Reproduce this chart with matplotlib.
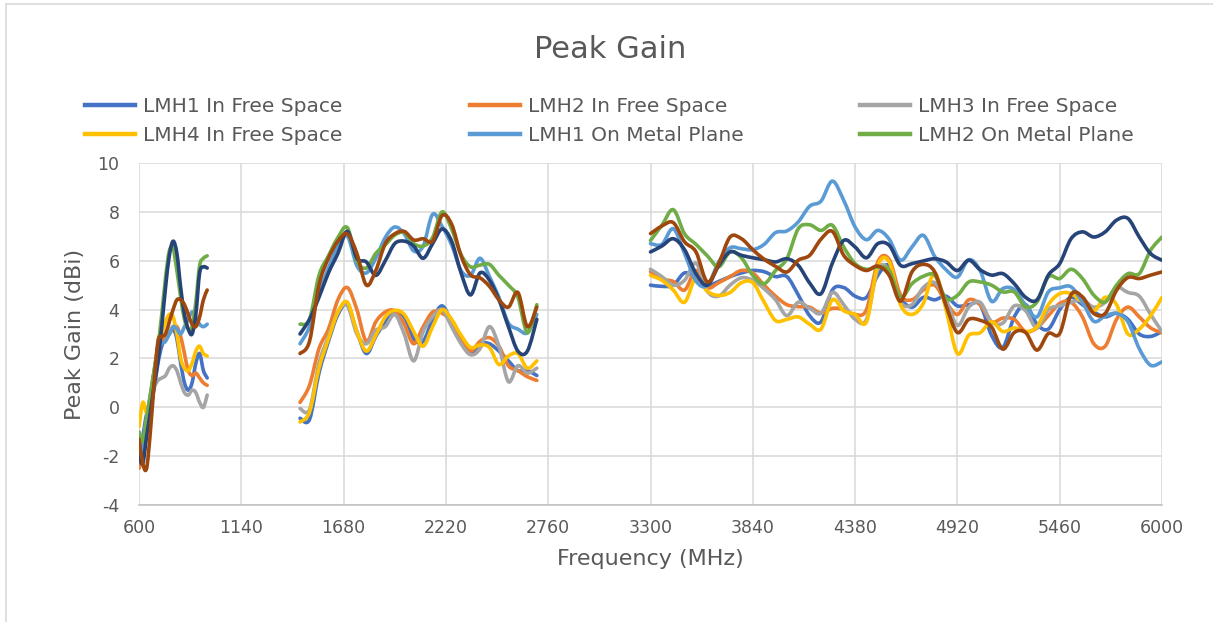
import numpy as np
import matplotlib.pyplot as plt
from matplotlib.lines import Line2D
from matplotlib.path import Path
from matplotlib.patches import PathPatch

plt.rcParams['font.family'] = 'DejaVu Sans'
plt.rcParams['axes.unicode_minus'] = False
TEXT = '#595959'

# measured bands (MHz)
f_low = np.arange(600, 961, 20)
f_mid = np.arange(1450, 2701, 50)
f_high = np.arange(3300, 6001, 60)

# peak gain (dBi) per antenna / mounting, one list per band
lmh1_free = [
    [-2.0, -1.2, -0.3, -0.1, 0.8, 1.8, 2.5, 2.8, 3.0, 3.2, 2.8, 1.8, 1.0, 0.7, 1.0, 1.8, 2.2, 1.5, 1.2],
    [-0.45, -0.5, 1.4, 2.7, 3.8, 4.2, 3.1, 2.2, 2.9, 3.5, 3.9, 3.7, 2.8, 2.7, 3.6, 4.15, 3.5, 2.8, 2.2,
     2.6, 2.6, 2.3, 1.9, 1.5, 1.5, 1.3],
    [5.0, 4.95, 5.0, 5.5, 5.3, 5.0, 5.15, 5.35, 5.5, 5.6, 5.55, 5.35, 5.35, 4.6, 3.75, 3.5, 4.8, 4.9,
     4.55, 4.5, 5.4, 5.8, 4.5, 4.1, 4.5, 4.4, 4.55, 4.15, 4.2, 4.2, 2.95, 2.45, 3.7, 4.2, 3.4, 3.2,
     4.0, 4.5, 4.2, 3.9, 3.7, 3.85, 3.6, 3.0, 2.9, 3.1],
]
lmh2_free = [
    [-2.5, -2.0, -0.8, 0.3, 1.3, 2.2, 2.7, 2.9, 3.0, 3.3, 3.3, 2.9, 2.2, 1.5, 1.3, 1.4, 1.2, 1.0, 0.9],
    [0.2, 0.9, 2.4, 3.2, 4.4, 4.9, 4.0, 2.7, 3.5, 3.9, 3.95, 3.4, 2.6, 3.3, 3.9, 3.85, 3.5, 2.8, 2.3,
     2.7, 2.85, 2.5, 1.7, 1.5, 1.25, 1.1],
    [5.55, 5.25, 5.15, 4.8, 5.6, 4.9, 5.1, 5.35, 5.6, 5.5, 5.0, 4.55, 4.2, 4.12, 4.1, 3.85, 4.05, 4.0,
     3.8, 4.0, 5.95, 6.05, 4.6, 4.4, 4.8, 5.0, 4.3, 3.8, 4.4, 4.2, 3.5, 3.65, 3.6, 3.1, 3.25, 3.75,
     4.25, 4.3, 3.7, 2.6, 2.5, 3.6, 4.1, 3.7, 3.25, 3.05],
]
lmh3_free = [
    [-1.2, -1.4, -0.5, 0.2, 0.8, 1.1, 1.2, 1.3, 1.6, 1.7, 1.5, 1.0, 0.6, 0.5, 0.7, 0.6, 0.2, 0.0, 0.5],
    [-0.05, -0.1, 1.8, 2.9, 3.9, 4.15, 3.0, 2.6, 3.15, 3.3, 3.8, 3.0, 1.9, 3.1, 3.7, 4.0, 3.3, 2.6, 2.15,
     2.4, 3.3, 2.5, 1.05, 1.7, 1.4, 1.6],
    [5.65, 5.35, 5.0, 5.2, 5.9, 4.75, 4.55, 5.0, 5.3, 5.2, 4.85, 4.4, 3.75, 4.3, 4.05, 3.85, 4.7, 4.2,
     3.6, 3.6, 5.65, 5.6, 4.3, 4.2, 4.9, 5.1, 4.4, 3.35, 4.1, 4.3, 3.5, 3.45, 4.15, 3.95, 3.25, 4.0,
     4.15, 4.3, 4.4, 4.1, 4.3, 4.9, 4.7, 4.55, 3.8, 3.1],
]
lmh4_free = [
    [-0.8, 0.2, -0.2, 0.5, 1.5, 2.5, 3.0, 3.5, 3.8, 3.7, 3.0, 2.0, 1.6, 1.5, 1.8, 2.3, 2.5, 2.2, 2.1],
    [-0.6, -0.2, 1.6, 2.8, 3.9, 4.3, 3.1, 2.3, 2.95, 3.7, 3.97, 3.8, 3.1, 2.5, 3.3, 4.0, 3.6, 2.95, 2.45,
     2.55, 2.45, 1.75, 2.1, 2.2, 1.6, 1.9],
    [5.4, 5.2, 4.8, 4.3, 5.3, 4.75, 4.58, 4.7, 5.1, 5.1, 4.3, 3.55, 3.6, 3.7, 3.4, 3.2, 4.4, 3.95,
     3.8, 3.5, 5.8, 5.95, 4.2, 3.8, 4.25, 5.5, 4.0, 2.2, 2.95, 3.05, 3.5, 3.1, 3.25, 3.1, 3.3, 4.2,
     4.65, 4.65, 4.3, 3.95, 4.5, 4.2, 3.0, 3.2, 3.75, 4.5],
]
lmh1_metal = [
    [-1.5, -1.8, -0.5, 0.5, 1.5, 2.4, 2.6, 2.7, 3.0, 3.3, 3.2, 3.0, 3.3, 3.6, 3.9, 3.7, 3.4, 3.3, 3.4],
    [2.6, 3.3, 4.65, 5.7, 6.6, 7.0, 5.8, 5.5, 6.1, 6.95, 7.38, 7.1, 6.4, 6.6, 7.9, 7.4, 6.65, 5.6, 5.4,
     6.1, 5.35, 4.5, 3.45, 3.2, 3.05, 3.8],
    [6.7, 6.67, 7.31, 6.29, 5.17, 4.99, 5.95, 6.53, 6.49, 6.45, 6.67, 7.15, 7.22, 7.59, 8.23, 8.44, 9.26,
     8.47, 7.38, 6.86, 7.24, 6.88, 6.02, 6.56, 7.04, 6.18, 5.63, 5.33, 6.04, 5.6, 4.34, 4.86, 4.82,
     4.18, 3.7, 4.72, 4.89, 4.93, 4.31, 3.52, 3.74, 3.84, 3.5, 2.4, 1.72, 1.86],
]
lmh2_metal = [
    [-1.0, -1.4, -0.5, 0.5, 1.5, 2.5, 3.8, 5.3, 6.4, 6.5, 5.6, 4.5, 3.6, 3.2, 3.3, 4.3, 5.8, 6.1, 6.2],
    [3.4, 3.6, 5.4, 6.2, 6.95, 7.35, 6.0, 5.7, 6.3, 6.65, 7.05, 7.15, 6.7, 6.6, 6.95, 8.0, 7.3, 6.25,
     5.75, 5.82, 5.85, 5.4, 5.0, 4.5, 3.05, 4.2],
    [6.83, 7.45, 8.09, 7.1, 6.67, 6.2, 5.75, 6.36, 6.12, 5.4, 5.06, 5.6, 6.08, 7.31, 7.47, 7.24, 7.45,
     6.56, 5.88, 5.65, 5.74, 5.6, 4.51, 5.06, 5.36, 5.4, 4.45, 4.58, 5.13, 5.13, 5.0, 4.72, 4.72, 4.11,
     4.31, 5.34, 5.27, 5.65, 5.27, 4.59, 4.31, 5.0, 5.47, 5.47, 6.43, 6.97],
]
lmh3_metal = [
    [-2.0, -2.3, -1.2, -0.2, 0.9, 1.9, 3.3, 4.9, 6.2, 6.8, 6.3, 4.9, 3.8, 3.2, 3.0, 3.8, 5.5, 5.75, 5.7],
    [3.0, 3.6, 4.5, 5.5, 6.3, 7.2, 6.1, 5.95, 5.4, 6.0, 6.7, 6.8, 6.6, 6.1, 6.7, 7.3, 6.8, 5.5, 4.6,
     5.5, 5.2, 4.4, 3.3, 2.3, 2.3, 3.6],
    [6.36, 6.6, 6.9, 6.45, 5.47, 5.0, 5.8, 6.36, 6.22, 6.12, 6.04, 5.95, 6.08, 5.81, 5.09, 4.65, 5.9,
     6.83, 6.56, 6.12, 6.7, 6.63, 5.81, 5.88, 5.99, 6.08, 5.95, 5.6, 6.02, 5.63, 5.41, 5.47, 5.06, 4.5,
     4.4, 5.41, 5.88, 6.9, 7.18, 6.97, 7.18, 7.66, 7.73, 6.97, 6.29, 6.02],
]
lmh4_metal = [
    [-1.3, -2.3, -2.5, -1.0, 1.0, 2.7, 2.9, 3.0, 3.5, 4.0, 4.4, 4.4, 4.2, 3.8, 3.4, 3.3, 3.7, 4.4, 4.8],
    [2.2, 2.7, 5.0, 6.1, 6.8, 7.1, 6.3, 5.0, 5.6, 6.7, 7.1, 7.2, 6.85, 6.9, 6.8, 7.85, 7.5, 6.2, 5.42,
     5.3, 4.95, 4.4, 4.1, 4.7, 3.3, 4.1],
    [7.11, 7.42, 7.56, 6.77, 6.36, 5.13, 5.88, 6.97, 6.9, 6.45, 6.06, 5.77, 5.54, 6.02, 6.22, 6.88, 7.2,
     6.22, 5.81, 5.6, 5.78, 5.4, 4.34, 5.54, 5.85, 5.54, 4.17, 3.06, 3.6, 3.56, 3.29, 2.38, 3.06, 3.06,
     2.34, 3.02, 3.02, 4.61, 4.52, 3.84, 3.84, 4.79, 5.31, 5.27, 5.41, 5.54],
]

series = [lmh1_free, lmh2_free, lmh3_free, lmh4_free,
          lmh1_metal, lmh2_metal, lmh3_metal, lmh4_metal]
labels = ['LMH1 In Free Space', 'LMH2 In Free Space', 'LMH3 In Free Space',
          'LMH4 In Free Space', 'LMH1 On Metal Plane', 'LMH2 On Metal Plane',
          'LMH3 On Metal Plane', 'LMH4 On Metal Plane']
colors = ['#4472C4', '#ED7D31', '#A5A5A5', '#FFC000',
          '#5B9BD5', '#70AD47', '#264478', '#9E480E']


def smooth_path(x, y):
    """Bezier path through the points (spreadsheet-style smoothed line)."""
    p = np.column_stack([x, y]).astype(float)
    ext = np.vstack([p[0], p, p[-1]])
    verts = [p[0]]
    codes = [Path.MOVETO]
    for i in range(len(p) - 1):
        p0, p1, p2, p3 = ext[i], ext[i + 1], ext[i + 2], ext[i + 3]
        verts += [p1 + (p2 - p0) / 6, p2 - (p3 - p1) / 6, p2]
        codes += [Path.CURVE4] * 3
    return Path(verts, codes)


W, H = 1213, 622
fig = plt.figure(figsize=(W / 100, H / 100), dpi=100)
ax = fig.add_axes([139 / W, 1 - 505 / H, (1162 - 139) / W, (505 - 163) / H])

handles = []
for data, color, label in zip(series, colors, labels):
    for f, g in zip((f_low, f_mid, f_high), data):
        ax.add_patch(PathPatch(smooth_path(f, g), fill=False, edgecolor=color,
                               lw=2.6, joinstyle='round', capstyle='round'))
    handles.append(Line2D([], [], color=color, lw=3.2))

ax.set_xlim(600, 6000)
ax.set_ylim(-4, 10)
ax.set_xticks(np.arange(600, 6001, 540))
ax.set_yticks(np.arange(-4, 11, 2))
ax.grid(color='#D9D9D9', lw=1.1)
ax.set_axisbelow(True)
for s in ['top', 'right', 'left']:
    ax.spines[s].set_visible(False)
ax.spines['bottom'].set_color('#BFBFBF')
ax.spines['bottom'].set_linewidth(1.1)
ax.tick_params(length=0, labelsize=12.5, labelcolor=TEXT)
ax.tick_params(axis='x', pad=10)
ax.tick_params(axis='y', pad=14)

ax.set_xlabel('Frequency (MHz)', fontsize=16, color=TEXT, labelpad=9)
ax.set_ylabel('Peak Gain (dBi)', fontsize=16, color=TEXT, labelpad=9)
fig.text(610 / W, 1 - 50 / H, 'Peak Gain', fontsize=22, color=TEXT,
         ha='center', va='center')

# legend laid out in three columns, rows read left to right
cols = [(85, [0, 3]), (470, [1, 4]), (860, [2, 5])]
for x0, idx in cols:
    leg = fig.legend([handles[i] for i in idx], [labels[i] for i in idx],
                     loc='center left', bbox_to_anchor=(x0 / W, 1 - 121 / H),
                     frameon=False, fontsize=14.5, handlelength=2.5,
                     handletextpad=0.4, labelspacing=0.5, borderpad=0,
                     borderaxespad=0)
    for t in leg.get_texts():
        t.set_color(TEXT)

# chart frame
fig.add_artist(Line2D([6 / W, 6 / W], [0, 1 - 4 / H], transform=fig.transFigure,
                      color='#D9D9D9', lw=1.2))
fig.add_artist(Line2D([6 / W, 1], [1 - 4 / H, 1 - 4 / H], transform=fig.transFigure,
                      color='#D9D9D9', lw=1.2))

fig.savefig('out.png', dpi=100, facecolor='white')
